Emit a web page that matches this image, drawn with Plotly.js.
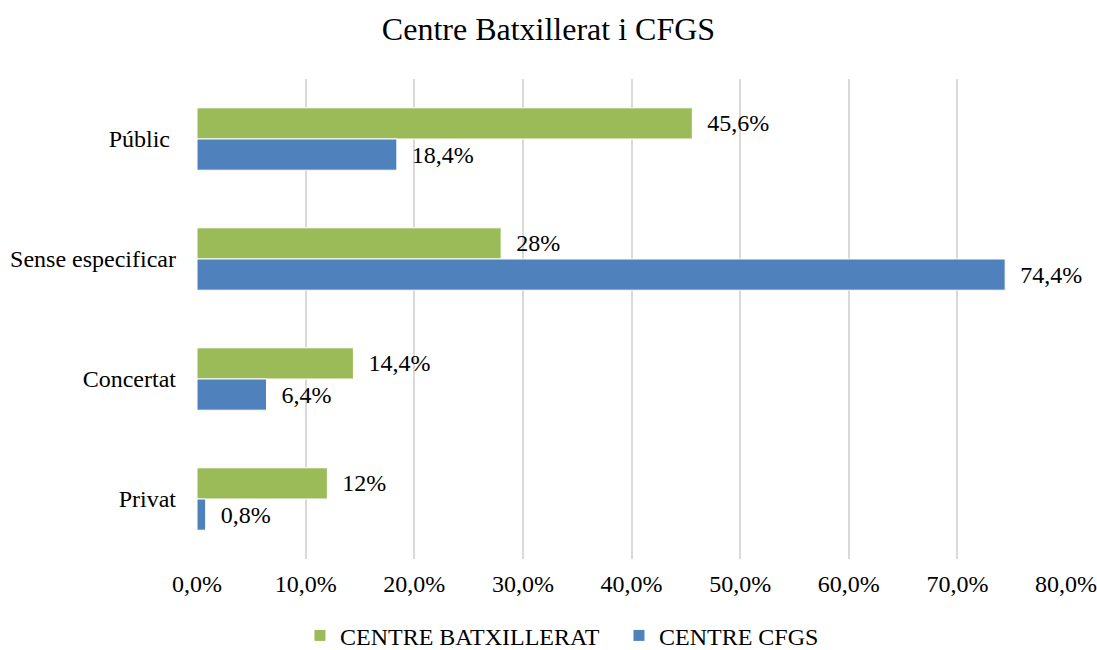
<!DOCTYPE html>
<html>
<head>
<meta charset="utf-8">
<script src="https://cdn.plot.ly/plotly-3.0.1.min.js"></script>
<style>html,body{margin:0;padding:0;background:#fff;}#chart{width:1097px;height:650px;}</style>
</head>
<body>
<div id="chart"></div>
<script>
const categories = ["Públic\u00a0", "Sense especificar", "Concertat", "Privat"];
const batxilleratValues = [0.456, 0.28, 0.144, 0.12];
const cfgsValues = [0.184, 0.744, 0.064, 0.008];
const batxilleratLabels = ["45,6%", "28%", "14,4%", "12%"];
const cfgsLabels = ["18,4%", "74,4%", "6,4%", "0,8%"];
const xTickVals = [0, 0.1, 0.2, 0.3, 0.4, 0.5, 0.6, 0.7, 0.8];

const fam = "Liberation Serif, Times New Roman, serif";

const traces = [
  {
    type: "bar", orientation: "h", name: "CENTRE BATXILLERAT",
    y: categories, x: batxilleratValues, text: batxilleratLabels,
    texttemplate: "  %{text}", textposition: "outside", cliponaxis: false,
    textfont: {family: fam, size: 24, color: "#000"},
    marker: {color: "#9BBB59", line: {color: "#ffffff", width: 1}},
    hoverinfo: "skip"
  },
  {
    type: "bar", orientation: "h", name: "CENTRE CFGS",
    y: categories, x: cfgsValues, text: cfgsLabels,
    texttemplate: "  %{text}", textposition: "outside", cliponaxis: false,
    textfont: {family: fam, size: 24, color: "#000"},
    marker: {color: "#4F81BD", line: {color: "#ffffff", width: 1}},
    hoverinfo: "skip"
  }
];

const layout = {
  width: 1097, height: 650,
  paper_bgcolor: "#fff", plot_bgcolor: "#fff",
  font: {family: fam, size: 24, color: "#000"},
  separators: ",.",
  title: {text: "Centre Batxillerat i CFGS", font: {family: fam, size: 32, color: "#000"}, x: 0.5, xanchor: "center", y: 0.955, yanchor: "middle"},
  margin: {l: 197, r: 31, t: 79, b: 91, autoexpand: false},
  barmode: "group", bargap: 0.48, bargroupgap: 0,
  xaxis: {
    range: [0, 0.8], tickvals: xTickVals, tickformat: ".1%",
    showgrid: true, gridcolor: "#d9d9d9", gridwidth: 2,
    zeroline: false, showline: false, ticks: "",
    ticklabelstandoff: 8, automargin: false,
    tickfont: {family: fam, size: 24, color: "#000"}
  },
  yaxis: {
    type: "category", autorange: "reversed",
    showgrid: false, zeroline: false, showline: false, ticks: "",
    ticklabelstandoff: 20, automargin: false,
    tickfont: {family: fam, size: 24, color: "#000"}
  },
  showlegend: true,
  legend: {orientation: "h", x: 0.1185, xanchor: "left", y: -0.16, yanchor: "middle",
    entrywidth: 274, entrywidthmode: "pixels",
    font: {family: fam, size: 24, color: "#000"}, itemwidth: 30, traceorder: "normal"}
};

Plotly.newPlot("chart", traces, layout, {displayModeBar: false, staticPlot: true});
</script>
</body>
</html>
